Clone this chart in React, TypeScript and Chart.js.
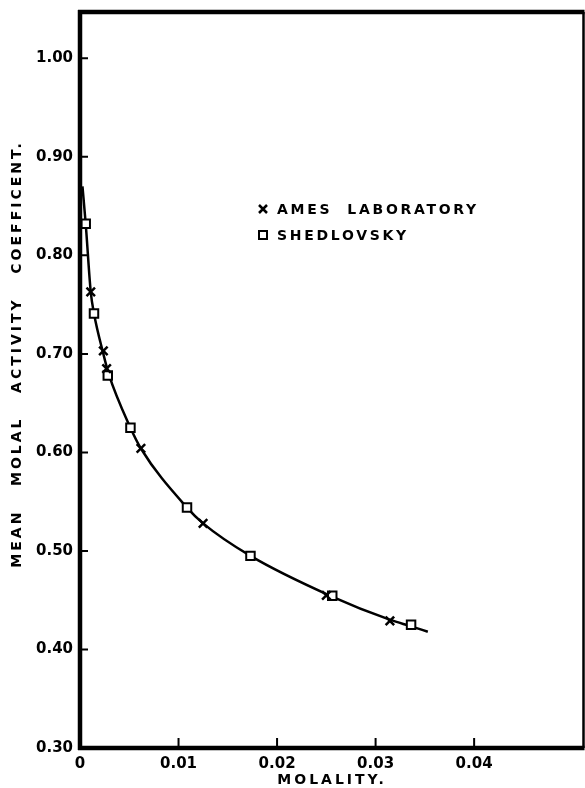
import React, { useEffect, useRef } from 'react';
import { Chart, registerables } from 'chart.js';

Chart.register(...registerables);

// Ames Laboratory measurements (molality, mean molal activity coefficient)
const amesX = [0.00109, 0.00237, 0.0027, 0.00618, 0.01249, 0.0250, 0.03145];
const amesY = [0.763, 0.703, 0.685, 0.604, 0.528, 0.455, 0.429];

// Shedlovsky measurements
const shedX = [0.00058, 0.00142, 0.00282, 0.00512, 0.01086, 0.0173, 0.0256, 0.0336];
const shedY = [0.832, 0.741, 0.678, 0.625, 0.544, 0.495, 0.4545, 0.425];

// Points
const curveX = [0.00025, 0.00058, 0.00109, 0.00142, 0.00237, 0.0029, 0.00512, 0.00618, 0.01086, 0.01249, 0.0173, 0.0254, 0.0315, 0.0336, 0.0353];
const curveY = [0.870, 0.832, 0.763, 0.741, 0.700, 0.680, 0.625, 0.604, 0.544, 0.528, 0.495, 0.4545, 0.430, 0.4235, 0.418];

const xTicks = [0, 0.01, 0.02, 0.03, 0.04];
const yTicks = [0.3, 0.4, 0.5, 0.6, 0.7, 0.8, 0.9, 1.0];

const xTitle = 'MOLALITY.';
const yTitle = 'MEAN   MOLAL   ACTIVITY   COEFFICENT.';
const legendLabels = ['AMES  LABORATORY', 'SHEDLOVSKY'];

const FONT = '"DejaVu Sans", sans-serif';

const framePlugin = {
  id: 'framePlugin',
  afterDraw(chart: any) {
    const { ctx, chartArea } = chart;
    const { left, right, top, bottom } = chartArea;
    const xs = chart.scales.x;
    const ys = chart.scales.y;
    ctx.save();
    ctx.strokeStyle = '#000';
    ctx.lineCap = 'butt';
    // frame
    ctx.lineWidth = 4.5;
    ctx.beginPath();
    ctx.moveTo(left, top - 2);
    ctx.lineTo(left, bottom + 2);
    ctx.moveTo(left - 2, bottom);
    ctx.lineTo(right + 1, bottom);
    ctx.moveTo(left - 2, top);
    ctx.lineTo(right + 1, top);
    ctx.stroke();
    ctx.lineWidth = 2.5;
    ctx.beginPath();
    ctx.moveTo(right, top);
    ctx.lineTo(right, bottom);
    ctx.stroke();
    // inward ticks
    ctx.lineWidth = 2;
    ctx.beginPath();
    yTicks.forEach((v) => {
      if (v <= 0.3) return;
      const py = ys.getPixelForValue(v);
      ctx.moveTo(left, py);
      ctx.lineTo(left + 8, py);
    });
    xTicks.forEach((v) => {
      if (v <= 0) return;
      const px = xs.getPixelForValue(v);
      ctx.moveTo(px, bottom);
      ctx.lineTo(px, bottom - 10);
    });
    ctx.stroke();

    // axis titles
    ctx.fillStyle = '#000';
    ctx.font = `bold 14px ${FONT}`;
    (ctx as any).letterSpacing = '3px';
    ctx.textAlign = 'center';
    ctx.textBaseline = 'middle';
    ctx.fillText(xTitle, 332, 780);
    ctx.save();
    ctx.translate(17, 354);
    ctx.rotate(-Math.PI / 2);
    ctx.fillText(yTitle, 0, 0);
    ctx.restore();

    // legend
    const mx = left + 183;
    const y1 = top + 197;
    const y2 = top + 223;
    ctx.lineWidth = 2.5;
    ctx.beginPath();
    ctx.moveTo(mx - 4, y1 - 4);
    ctx.lineTo(mx + 4, y1 + 4);
    ctx.moveTo(mx - 4, y1 + 4);
    ctx.lineTo(mx + 4, y1 - 4);
    ctx.stroke();
    ctx.lineWidth = 2;
    ctx.fillStyle = '#fff';
    ctx.fillRect(mx - 4, y2 - 4, 8, 8);
    ctx.strokeRect(mx - 4, y2 - 4, 8, 8);
    ctx.fillStyle = '#000';
    ctx.font = `bold 14px ${FONT}`;
    (ctx as any).letterSpacing = '2.7px';
    ctx.textAlign = 'left';
    ctx.fillText(legendLabels[0], mx + 14, y1 + 1);
    ctx.fillText(legendLabels[1], mx + 14, y2 + 1);
    ctx.restore();
  },
};

export default function App() {
  const ref = useRef<HTMLCanvasElement | null>(null);
  useEffect(() => {
    if (!ref.current) return;
    const chart = new Chart(ref.current, {
      type: 'scatter',
      data: {
        datasets: [
          {
            label: 'curve',
            data: curveX.map((x, i) => ({ x, y: curveY[i] })),
            showLine: true,
            borderColor: '#000',
            borderWidth: 2.5,
            pointRadius: 0,
            cubicInterpolationMode: 'monotone',
            order: 3,
          } as any,
          {
            label: legendLabels[0],
            data: amesX.map((x, i) => ({ x, y: amesY[i] })),
            pointStyle: 'crossRot',
            pointRadius: 6,
            borderColor: '#000',
            borderWidth: 2.5,
            order: 1,
          },
          {
            label: legendLabels[1],
            data: shedX.map((x, i) => ({ x, y: shedY[i] })),
            pointStyle: 'rect',
            pointRadius: 6,
            backgroundColor: '#fff',
            borderColor: '#000',
            borderWidth: 2,
            order: 2,
          },
        ],
      },
      options: {
        animation: false,
        responsive: false,
        events: [],
        layout: { padding: { top: 12, right: 2, left: 0, bottom: 0 } },
        plugins: { legend: { display: false }, tooltip: { enabled: false } },
        scales: {
          x: {
            type: 'linear',
            min: 0,
            max: 0.0511,
            grid: { display: false, drawTicks: false },
            border: { display: false },
            afterBuildTicks: (s: any) => {
              s.ticks = xTicks.map((v) => ({ value: v }));
            },
            afterFit: (s: any) => {
              s.height = 40;
              s.paddingLeft = 0;
              s.paddingRight = 0;
            },
            ticks: {
              padding: 7,
              color: '#000',
              maxRotation: 0,
              autoSkip: false,
              font: { family: FONT, weight: 'bold', size: 15 },
              callback: (v: any) => (Number(v) === 0 ? '0' : Number(v).toFixed(2)),
            },
          },
          y: {
            type: 'linear',
            min: 0.3,
            max: 1.047,
            grid: { display: false, drawTicks: false },
            border: { display: false },
            afterBuildTicks: (s: any) => {
              s.ticks = yTicks.map((v) => ({ value: v }));
            },
            afterFit: (s: any) => {
              s.width = 80;
              s.paddingTop = 0;
              s.paddingBottom = 0;
            },
            ticks: {
              padding: 7,
              color: '#000',
              autoSkip: false,
              font: { family: FONT, weight: 'bold', size: 15 },
              callback: (v: any) => Number(v).toFixed(2),
            },
          },
        },
      },
      plugins: [framePlugin],
    });
    return () => chart.destroy();
  }, []);
  return (
    <div style={{ position: 'fixed', left: 0, top: 0, width: 585, height: 788, background: '#fff', overflow: 'hidden' }}>
      <canvas ref={ref} width={592} height={788} style={{ display: 'block' }} />
    </div>
  );
}
